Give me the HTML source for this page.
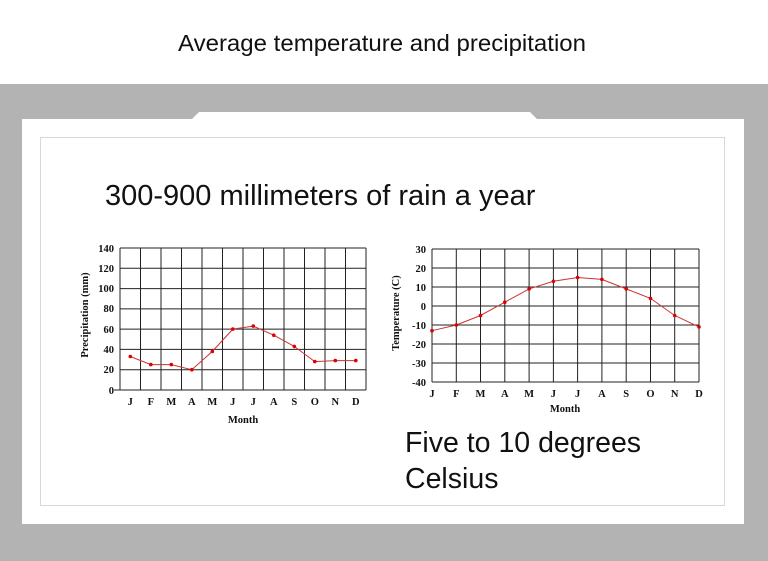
<!DOCTYPE html>
<html><head><meta charset="utf-8"><style>
html,body{margin:0;padding:0;width:768px;height:561px;overflow:hidden;background:#fff}
svg{display:block}
.t{font-family:"Liberation Serif",serif;font-weight:bold;font-size:10.5px;fill:#111}
.s{font-family:"Liberation Sans",sans-serif;fill:#111}
</style></head><body>
<svg width="768" height="561" viewBox="0 0 768 561" xmlns="http://www.w3.org/2000/svg">
<rect x="0" y="0" width="768" height="84" fill="#fff"/>
<rect x="0" y="84" width="768" height="477" fill="#b3b3b3"/>
<path d="M22 119 L192 119 L199 112 L530 112 L537 119 L744 119 L744 524 L22 524 Z" fill="#fff"/>
<rect x="40.5" y="137.5" width="684" height="368" fill="#fff" stroke="#d8d8d8" stroke-width="1"/>
<text class="s" x="382" y="51" font-size="23.5" text-anchor="middle" textLength="408" lengthAdjust="spacingAndGlyphs">Average temperature and precipitation</text>
<text class="s" x="105" y="205" font-size="29">300-900 millimeters of rain a year</text>
<text class="s" x="405" y="452" font-size="28.5">Five to 10 degrees</text>
<text class="s" x="405" y="488" font-size="28.5">Celsius</text>

<!-- Chart 1 -->
<g stroke="#222" stroke-width="1" fill="none">
<path d="M120 248V390M140.5 248V390M161 248V390M181.5 248V390M202 248V390M222.5 248V390M243 248V390M263.5 248V390M284 248V390M304.5 248V390M325 248V390M345.5 248V390M366 248V390"/>
<path d="M120 248H366M120 268.3H366M120 288.6H366M120 308.9H366M120 329.1H366M120 349.4H366M120 369.7H366M120 390H366"/>
<path d="M114 390H120"/>
</g>
<polyline fill="none" stroke="#c33" stroke-width="1" points="130.3,356.5 150.8,364.6 171.3,364.6 191.8,369.7 212.3,351.5 232.8,329.1 253.3,326.1 273.8,335.2 294.3,346.4 314.8,361.6 335.3,360.6 355.8,360.6"/>
<g fill="#d00">
<circle cx="130.3" cy="356.5" r="1.8"/><circle cx="150.8" cy="364.6" r="1.8"/><circle cx="171.3" cy="364.6" r="1.8"/><circle cx="191.8" cy="369.7" r="1.8"/><circle cx="212.3" cy="351.5" r="1.8"/><circle cx="232.8" cy="329.1" r="1.8"/><circle cx="253.3" cy="326.1" r="1.8"/><circle cx="273.8" cy="335.2" r="1.8"/><circle cx="294.3" cy="346.4" r="1.8"/><circle cx="314.8" cy="361.6" r="1.8"/><circle cx="335.3" cy="360.6" r="1.8"/><circle cx="355.8" cy="360.6" r="1.8"/>
</g>
<g class="t" text-anchor="end">
<text x="114" y="252">140</text><text x="114" y="272">120</text><text x="114" y="292">100</text><text x="114" y="312">80</text><text x="114" y="333">60</text><text x="114" y="353">40</text><text x="114" y="373">20</text><text x="114" y="394">0</text>
</g>
<g class="t" text-anchor="middle">
<text x="130.3" y="405">J</text><text x="150.8" y="405">F</text><text x="171.3" y="405">M</text><text x="191.8" y="405">A</text><text x="212.3" y="405">M</text><text x="232.8" y="405">J</text><text x="253.3" y="405">J</text><text x="273.8" y="405">A</text><text x="294.3" y="405">S</text><text x="314.8" y="405">O</text><text x="335.3" y="405">N</text><text x="355.8" y="405">D</text>
<text x="243" y="423">Month</text>
<text transform="translate(88 315) rotate(-90)">Precipitation (mm)</text>
</g>

<!-- Chart 2 -->
<g stroke="#222" stroke-width="1" fill="none">
<path d="M432 249V382M456.3 249V382M480.5 249V382M504.8 249V382M529.1 249V382M553.4 249V382M577.6 249V382M601.9 249V382M626.2 249V382M650.5 249V382M674.7 249V382M699 249V382"/>
<path d="M432 249H699M432 268H699M432 287H699M432 306H699M432 325H699M432 344H699M432 363H699M432 382H699"/>
</g>
<polyline fill="none" stroke="#c33" stroke-width="1" points="432,330.7 456.3,325 480.5,315.5 504.8,302.2 529.1,288.9 553.4,281.3 577.6,277.5 601.9,279.4 626.2,288.9 650.5,298.4 674.7,315.5 699,326.9"/>
<g fill="#d00">
<circle cx="432" cy="330.7" r="1.8"/><circle cx="456.3" cy="325" r="1.8"/><circle cx="480.5" cy="315.5" r="1.8"/><circle cx="504.8" cy="302.2" r="1.8"/><circle cx="529.1" cy="288.9" r="1.8"/><circle cx="553.4" cy="281.3" r="1.8"/><circle cx="577.6" cy="277.5" r="1.8"/><circle cx="601.9" cy="279.4" r="1.8"/><circle cx="626.2" cy="288.9" r="1.8"/><circle cx="650.5" cy="298.4" r="1.8"/><circle cx="674.7" cy="315.5" r="1.8"/><circle cx="699" cy="326.9" r="1.8"/>
</g>
<g class="t" text-anchor="end">
<text x="426" y="253">30</text><text x="426" y="272">20</text><text x="426" y="291">10</text><text x="426" y="310">0</text><text x="426" y="329">-10</text><text x="426" y="348">-20</text><text x="426" y="367">-30</text><text x="426" y="386">-40</text>
</g>
<g class="t" text-anchor="middle">
<text x="432" y="397">J</text><text x="456.3" y="397">F</text><text x="480.5" y="397">M</text><text x="504.8" y="397">A</text><text x="529.1" y="397">M</text><text x="553.4" y="397">J</text><text x="577.6" y="397">J</text><text x="601.9" y="397">A</text><text x="626.2" y="397">S</text><text x="650.5" y="397">O</text><text x="674.7" y="397">N</text><text x="699" y="397">D</text>
<text x="565" y="412">Month</text>
<text transform="translate(399 313) rotate(-90)">Temperature (C)</text>
</g>
</svg>
</body></html>
